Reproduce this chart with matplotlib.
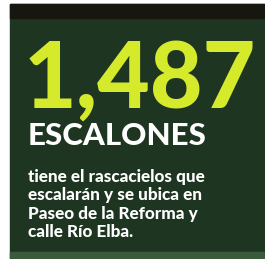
import matplotlib
matplotlib.use("Agg")
from matplotlib import pyplot as plt
from matplotlib.patches import Rectangle

numero = "1,487"
titulo = "ESCALONES"
lineas = ["tiene el rascacielos que",
          "escalarán y se ubica en",
          "Paseo de la Reforma y",
          "calle Río Elba."]

W, H = 265, 259
fig = plt.figure(figsize=(W / 100, H / 100), dpi=100)
ax = fig.add_axes([0, 0, 1, 1])
ax.set_xlim(0, W)
ax.set_ylim(H, 0)
ax.axis("off")
fig.patch.set_facecolor("white")

# fondo
ax.add_patch(Rectangle((10, 4), W - 10, H - 4, color="#1e3621"))
ax.add_patch(Rectangle((10, 4), W - 10, 14, color="#17170f"))
ax.add_patch(Rectangle((10, 252), W - 10, 7, color="#3a5a3c"))

ax.text(24, 108, numero, color="#d6ea2c", fontsize=65.5, fontweight="black",
        family="Lato", ha="left", va="baseline")
ax.text(28, 145, titulo, color="white", fontsize=22.5, fontweight="black",
        family="Lato", ha="left", va="baseline")
for i, l in enumerate(lineas):
    ax.text(28, 182 + i * 18.3, l, color="white", fontsize=12.3,
            fontweight="black", family="Lato", ha="left", va="baseline")

fig.savefig("out.png", dpi=100)
